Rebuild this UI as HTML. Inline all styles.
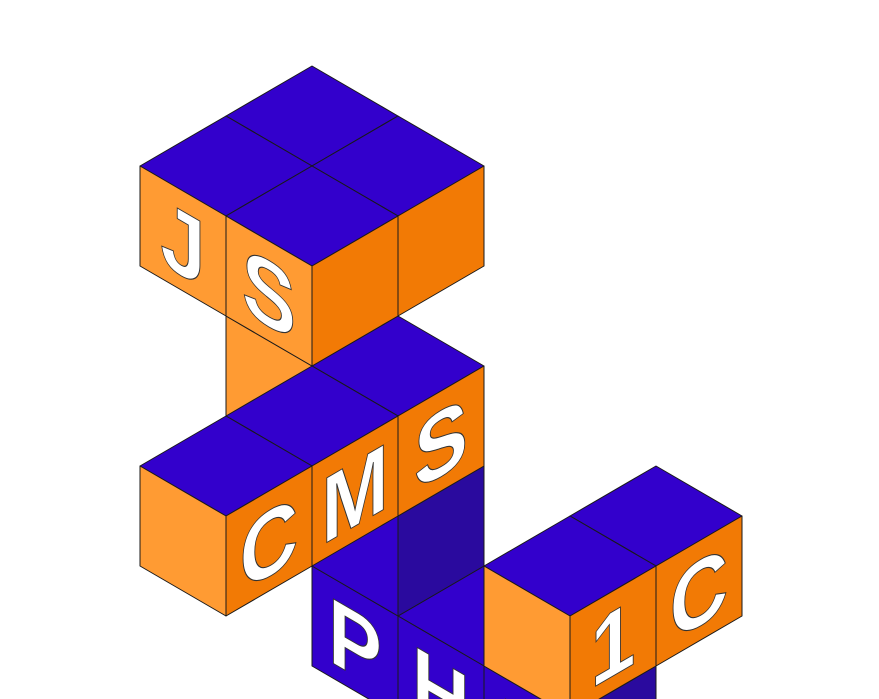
<!DOCTYPE html>
<html><head><meta charset="utf-8"><style>
html,body{margin:0;padding:0;background:#fff;width:879px;height:699px;overflow:hidden}
svg{display:block}
text{font-family:"Liberation Sans",Arial,sans-serif}
</style></head><body>
<svg id="art" width="879" height="699" viewBox="0 0 879 699" xmlns="http://www.w3.org/2000/svg"></svg>
<script>
// cube grid positions [i, j, k]
const cubeI = [0,1,1,0, 1,1,1, 1,1,2,3, 3,3, 0];
const cubeJ = [0,0,1,1, 0,1,2, 0,0,0,0, 0,-1, 0];
const cubeK = [4,4,4,4, 2,2,2, 1,0,0,0, 1,1, 2];
const cubeKind = ['o','o','o','o','o','o','o','p','p','p','p','o','o','o'];
const leftLetter = ['','','S','J','','','','','P','H','P','','',''];
const rightLetter = ['','','','','S','M','C','','','','','1','C',''];

const OX=312, OY=566, DX=86, DY=50, DZ=100;
const svg=document.getElementById('art');
const NS='http://www.w3.org/2000/svg';
function P(i,j,k){return [OX+DX*(i-j), OY+DY*(i+j)-DZ*k];}
function poly(pts,fill,name){
  const p=document.createElementNS(NS,'polygon');
  p.setAttribute('points',pts.map(a=>a.join(',')).join(' '));
  p.setAttribute('fill',fill);p.setAttribute('stroke','#1a1a1a');p.setAttribute('stroke-width','1');
  p.setAttribute('stroke-linejoin','round');
  
  
  svg.appendChild(p);
}
function letter(ch,origin,slope,name){
  const t=document.createElementNS(NS,'text');
  t.setAttribute('transform',`matrix(0.86,${slope},0,1,${origin[0]},${origin[1]})`);
  t.setAttribute('x','50');t.setAttribute('y','85');
  t.setAttribute('text-anchor','middle');
  t.setAttribute('font-size','94');
  t.setAttribute('font-weight','bold');
  t.setAttribute('fill','#fff');t.setAttribute('stroke','#333');t.setAttribute('stroke-width','1');
  t.textContent=ch;
  
  
  svg.appendChild(t);
}
const order=cubeI.map((_,n)=>n).sort((a,b)=>{
  const sa=cubeI[a]+cubeJ[a]+cubeK[a], sb=cubeI[b]+cubeJ[b]+cubeK[b];
  return sa-sb || cubeK[a]-cubeK[b];
});
for(const n of order){
  const i=cubeI[n], j=cubeJ[n], k=cubeK[n];
  const orange=cubeKind[n]==='o';
  const top='#3300CC';
  const lf=orange?'#FF9B33':'#3300CC';
  const rf=orange?'#F27A05':'#2A0A9E';
  poly([P(i,j,k+1),P(i+1,j,k+1),P(i+1,j+1,k+1),P(i,j+1,k+1)],top,'cube-top-face');
  poly([P(i,j+1,k+1),P(i+1,j+1,k+1),P(i+1,j+1,k),P(i,j+1,k)],lf,'cube-left-face');
  poly([P(i+1,j+1,k+1),P(i+1,j,k+1),P(i+1,j,k),P(i+1,j+1,k)],rf,'cube-right-face');
  if(leftLetter[n]) letter(leftLetter[n],P(i,j+1,k+1),0.5,'letter-'+leftLetter[n].toLowerCase());
  if(rightLetter[n]) letter(rightLetter[n],P(i+1,j+1,k+1),-0.5,'letter-'+rightLetter[n].toLowerCase());
}
</script>
</body></html>
